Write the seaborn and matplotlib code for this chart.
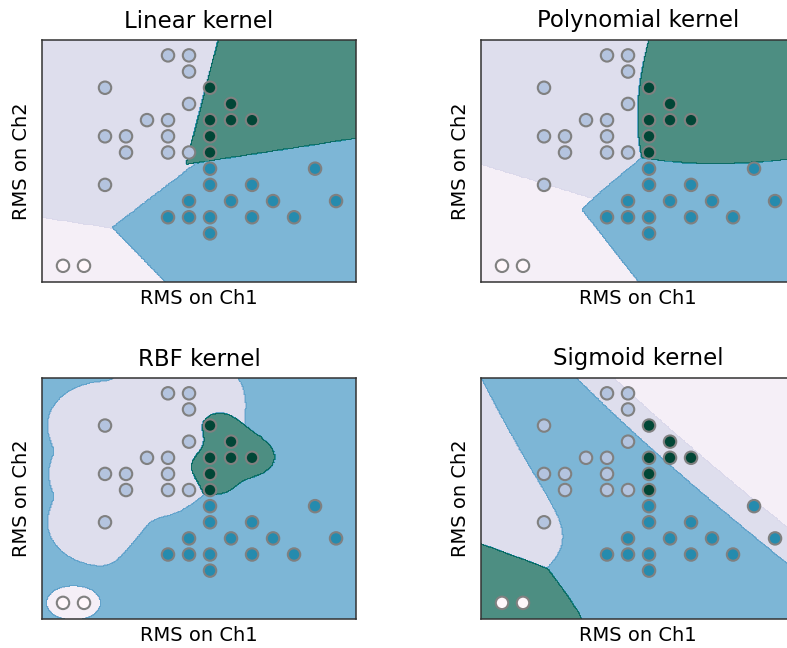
import numpy as np
import pandas as pd
import matplotlib
matplotlib.use('Agg')
import matplotlib.pyplot as plt
import seaborn as sns

# ---- data (RMS values) ----
ch1 = [0, 1,
       5, 6, 6, 2, 6, 4, 5, 2, 3, 5, 3, 5, 6, 2,
       7, 12, 7, 9, 6, 8, 10, 13, 5, 6, 7, 9, 11, 7,
       7, 8, 7, 8, 9, 7, 7]
ch2 = [0, 0,
       13, 13, 12, 11, 10, 9, 9, 8, 8, 8, 7, 7, 7, 5,
       6, 6, 5, 5, 4, 4, 4, 4, 3, 3, 3, 3, 3, 2,
       11, 10, 9, 9, 9, 8, 7]
label = [0] * 2 + [1] * 14 + [2] * 14 + [3] * 7

titles = ['Linear kernel', 'Polynomial kernel', 'RBF kernel', 'Sigmoid kernel']
kernels = ['linear', 'poly', 'rbf', 'sigmoid']
C_values = [0.2, 0.3, 1.0, 100.0]
gammas = [None, 'scale', 0.7, 0.1]
shifts = [0.0, 0.0, 0.0, 1.0]

df = pd.DataFrame({'ch1': ch1, 'ch2': ch2, 'label': label})
X = df[['ch1', 'ch2']].to_numpy(float)
Y = df['label'].to_numpy()
TAU = 1e-12


def kern(A, B, kind, g):
    d = A @ B.T
    if kind == 'linear':
        return d
    if kind == 'poly':
        return (g * d) ** 3
    if kind == 'rbf':
        sq = (A ** 2).sum(1)[:, None] + (B ** 2).sum(1)[None, :] - 2 * d
        return np.exp(-g * sq)
    return np.tanh(g * d)


def smo(K, y, C, eps=1e-3, maxit=3000):
    n = len(y)
    Q = (y[:, None] * y[None, :]) * K
    QD = np.diag(Q).copy()
    a = np.zeros(n)
    G = -np.ones(n)
    for _ in range(maxit):
        up = ((y > 0) & (a < C)) | ((y < 0) & (a > 0))
        low = ((y > 0) & (a > 0)) | ((y < 0) & (a < C))
        yG = y * G
        vi = np.where(up, -yG, -np.inf)
        i = n - 1 - np.argmax(vi[::-1])
        Gmax = vi[i]
        Gmax2 = np.max(np.where(low, yG, -np.inf))
        gd = Gmax + yG
        qc = QD[i] + QD - 2 * K[i]
        qc = np.where(qc > 0, qc, TAU)
        od = np.where(low & (gd > 0), -(gd * gd) / qc, np.inf)
        if Gmax + Gmax2 < eps or not np.isfinite(od).any():
            break
        j = n - 1 - np.argmin(od[::-1])
        ai, aj = a[i], a[j]
        if y[i] != y[j]:
            q = QD[i] + QD[j] + 2 * Q[i, j]
            q = q if q > 0 else TAU
            delta = (-G[i] - G[j]) / q
            diff = a[i] - a[j]
            a[i] += delta; a[j] += delta
            if diff > 0:
                if a[j] < 0: a[j] = 0; a[i] = diff
                if a[i] > C: a[i] = C; a[j] = C - diff
            else:
                if a[i] < 0: a[i] = 0; a[j] = -diff
                if a[j] > C: a[j] = C; a[i] = C + diff
        else:
            q = QD[i] + QD[j] - 2 * Q[i, j]
            q = q if q > 0 else TAU
            delta = (G[i] - G[j]) / q
            s = a[i] + a[j]
            a[i] -= delta; a[j] += delta
            if s > C:
                if a[i] > C: a[i] = C; a[j] = s - C
                if a[j] > C: a[j] = C; a[i] = s - C
            else:
                if a[j] < 0: a[j] = 0; a[i] = s
                if a[i] < 0: a[i] = 0; a[j] = s
        G += Q[:, i] * (a[i] - ai) + Q[:, j] * (a[j] - aj)
    yG = y * G
    free = (a > 0) & (a < C)
    if free.any():
        rho = yG[free].mean()
    else:
        ubm = ((a >= C) & (y < 0)) | ((a <= 0) & (y > 0))
        ub = yG[ubm].min() if ubm.any() else np.inf
        lb = yG[~ubm].max() if (~ubm).any() else -np.inf
        rho = (ub + lb) / 2
    return a, rho


def svc_predict(Xt, kind, C, g, shift):
    Xs = X + shift
    Xq = Xt + shift
    if g == 'scale':
        g = 1.0 / (2 * Xs.var())
    votes = np.zeros((len(Xt), 4))
    for p in range(4):
        for q in range(p + 1, 4):
            m = (Y == p) | (Y == q)
            yy = np.where(Y[m] == p, 1.0, -1.0)
            a, rho = smo(kern(Xs[m], Xs[m], kind, g), yy, C)
            dec = kern(Xq, Xs[m], kind, g) @ (a * yy) - rho
            votes[:, p] += dec > 0
            votes[:, q] += dec <= 0
    return votes.argmax(1)


h = 0.05
xx, yy = np.meshgrid(np.arange(X[:, 0].min() - 1, X[:, 0].max() + 1, h),
                     np.arange(X[:, 1].min() - 1, X[:, 1].max() + 1, h))
grid = np.c_[xx.ravel(), yy.ravel()]

cmap = plt.cm.PuBuGn
palette = {k: cmap(k / 3) for k in range(4)}

fig = plt.figure(figsize=(7.87, 6.48), dpi=100)
W, H = 787, 648
boxes = [(42, 40, 314, 242), (481, 40, 314, 242), (42, 378, 314, 241), (481, 378, 314, 241)]

for idx in range(4):
    x0, y0, w, hh = boxes[idx]
    ax = fig.add_axes([x0 / W, 1 - (y0 + hh) / H, w / W, hh / H])
    Z = svc_predict(grid, kernels[idx], C_values[idx], gammas[idx], shifts[idx]).reshape(xx.shape)
    ax.contourf(xx, yy, Z, levels=[0, 0.5, 1, 1.5, 2, 2.5, 3], cmap=cmap, alpha=0.7)
    sns.scatterplot(data=df, x='ch1', y='ch2', hue='label', palette=palette, s=80,
                    edgecolor='grey', linewidth=1.5, legend=False, ax=ax, zorder=3)
    ax.set_xlim(xx.min(), xx.max())
    ax.set_ylim(yy.min(), yy.max())
    ax.set_xticks([])
    ax.set_yticks([])
    ax.set_xlabel('RMS on Ch1', fontsize=14, labelpad=5)
    ax.set_ylabel('RMS on Ch2', fontsize=14, labelpad=8)
    ax.set_title(titles[idx], fontsize=16.5, pad=9)
    for sp in ax.spines.values():
        sp.set_color('#333333')
        sp.set_linewidth(1.1)

fig.savefig('out.png', dpi=100)
